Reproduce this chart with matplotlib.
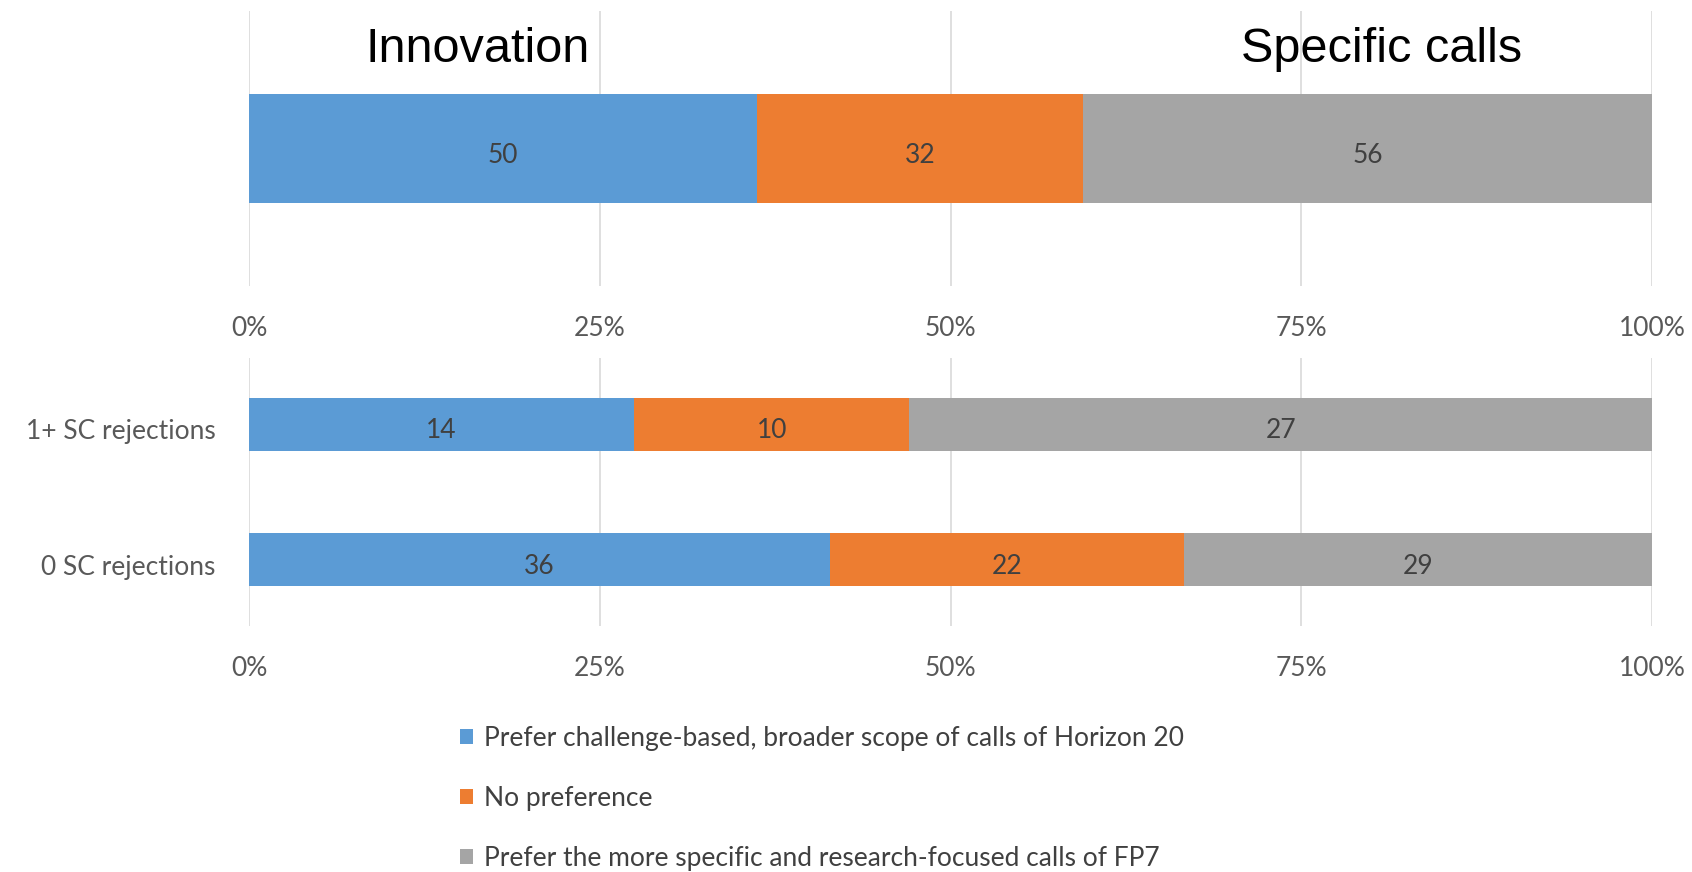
import numpy as np
import matplotlib
matplotlib.use("Agg")
import matplotlib.pyplot as plt
import matplotlib.transforms as mtransforms
from matplotlib.patches import Patch

# data
top_values = [50, 32, 56]
groups = ["0 SC rejections", "1+ SC rejections"]
h2020 = [36, 14]
no_pref = [22, 10]
fp7 = [29, 27]
series_names = ["Prefer challenge-based, broader scope of calls of Horizon 20",
                "No preference",
                "Prefer the more specific and research-focused calls of FP7"]
colors = ["#5B9BD5", "#ED7D31", "#A5A5A5"]
ticks = [0, 0.25, 0.5, 0.75, 1.0]
tick_labels = ["0%", "25%", "50%", "75%", "100%"]

plt.rcParams['font.family'] = ['Lato', 'DejaVu Sans']
W, H = 1692, 872
fig = plt.figure(figsize=(W / 100, H / 100), dpi=100)

def style_axis(ax):
    for s in ax.spines.values():
        s.set_visible(False)
    ax.set_xlim(0, 1)
    ax.set_xticks(ticks)
    ax.set_xticklabels(tick_labels)
    ax.grid(axis='x', color='#d9d9d9', linewidth=1.2)
    ax.set_axisbelow(True)
    ax.tick_params(axis='x', length=0, pad=21.5, labelsize=19, labelcolor='#595959')
    ax.tick_params(axis='y', length=0, pad=24, labelsize=19, labelcolor='#595959')

def stacked(ax, ypos, rows, height):
    rows = np.array(rows, dtype=float)
    totals = rows.sum(axis=0)
    left = np.zeros(len(ypos))
    for i, vals in enumerate(rows):
        frac = vals / totals
        ax.barh(ypos, frac, left=left, height=height, color=colors[i], edgecolor='none')
        for y, l, f, v in zip(ypos, left, frac, vals):
            ax.annotate(f"{int(v)}", (l + f / 2, y), xytext=(0, -3), textcoords='offset points',
                        ha='center', va='center_baseline', fontsize=19, color='#404040')
        left = left + frac

# top chart
ax1 = fig.add_axes([249 / W, 1 - 286 / H, 1403 / W, 275 / H])
style_axis(ax1)
stacked(ax1, [0], [[v] for v in top_values], 0.396)
ax1.set_ylim(-0.5, 0.5)
ax1.set_yticks([])

# bottom chart
ax2 = fig.add_axes([249 / W, 1 - 626 / H, 1403 / W, 268 / H])
style_axis(ax2)
stacked(ax2, [0, 1], [h2020, no_pref, fp7], 0.39)
ax2.set_ylim(-0.49, 1.49)
ax2.set_yticks([0, 1])
ax2.set_yticklabels(groups)
shift = mtransforms.ScaledTranslation(0, -3.5 / 72, fig.dpi_scale_trans)
for lbl in ax2.get_yticklabels():
    lbl.set_va('center_baseline')
    lbl.set_transform(lbl.get_transform() + shift)

# headings
for txt, x in [("Innovation", 478), ("Specific calls", 1382)]:
    fig.text(x / W, 1 - 49 / H, txt, ha='center', va='center', fontsize=35,
             color='black', family=['Liberation Sans Narrow', 'Liberation Sans', 'DejaVu Sans'])

handles = [Patch(facecolor=c, edgecolor='none') for c in colors]
fig.legend(handles, series_names, loc='upper left', bbox_to_anchor=(460 / W, 1 - 726 / H),
           frameon=False, fontsize=19, labelcolor='#404040', handlelength=0.5,
           handleheight=0.5, handletextpad=0.4, labelspacing=1.33, borderpad=0,
           borderaxespad=0)

fig.savefig("out.png", dpi=100)
